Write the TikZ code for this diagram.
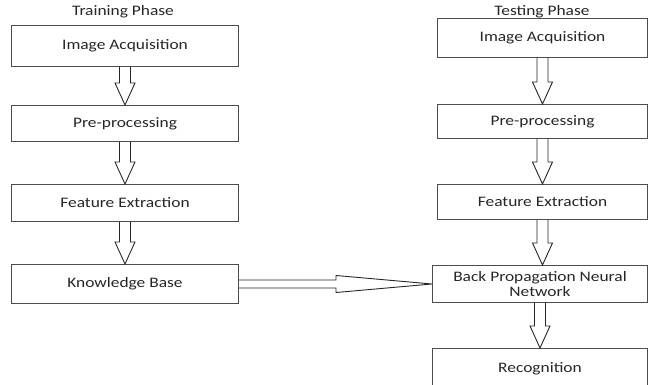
\documentclass[tikz,border=0pt]{standalone}
\usepackage{fontspec}
\setmainfont{Carlito}[FakeStretch=1.2]
\usetikzlibrary{calc}
\newcommand{\blockdown}[2]{%
  \draw[barrow] ($(#1.south)+(-5.5,0)$) -- ($(#1.south |- #2.north)+(-5.5,-22)$)
    -- ($(#1.south |- #2.north)+(-10,-22)$) -- (#1.south |- #2.north)
    -- ($(#1.south |- #2.north)+(10,-22)$) -- ($(#1.south |- #2.north)+(5.5,-22)$)
    -- ($(#1.south)+(5.5,0)$);}
\begin{document}
\begin{tikzpicture}[x=1pt,y=-1pt,
  box/.style={draw=black!70, line width=1pt, text=black!85,
    font=\fontsize{14.5}{15.5}\selectfont, inner sep=0pt, anchor=north west, align=center},
  title/.style={text=black!85, font=\fontsize{14.5}{15.5}\selectfont, inner sep=0pt},
  barrow/.style={draw=black!85, line width=0.9pt}]
\useasboundingbox (0,0) rectangle (648,385);
% titles
\node[title] (ttrain) at (123,12) {Training Phase};
\node[title] (ttest) at (542,12) {Testing Phase};
% training column
\node[box, minimum width=227, minimum height=41] (b1) at (11,25) {Image Acquisition};
\node[box, minimum width=227, minimum height=36] (b2) at (11,105) {Pre-processing};
\node[box, minimum width=227, minimum height=37] (b3) at (11,184) {Feature Extraction};
\node[box, minimum width=227, minimum height=39] (b4) at (11,264) {Knowledge Base};
% testing column
\node[box, minimum width=210, minimum height=39] (r1) at (437,18) {Image Acquisition};
\node[box, minimum width=210, minimum height=34] (r2) at (437,104) {Pre-processing};
\node[box, minimum width=210, minimum height=35] (r3) at (437,184) {Feature Extraction};
\node[box, minimum width=215, minimum height=37] (r4) at (432,265) {Back Propagation Neural\\Network};
\node[box, minimum width=215, minimum height=40] (r5) at (432,348) {Recognition};
% vertical block arrows
\blockdown{b1}{b2}
\blockdown{b2}{b3}
\blockdown{b3}{b4}
\blockdown{r1}{r2}
\blockdown{r2}{r3}
\blockdown{r3}{r4}
\blockdown{r4}{r5}
% horizontal block arrow
\draw[barrow] ($(b4.east)+(0,-4)$) -- ($(r4.west)+(-96,-4)$) -- ($(r4.west)+(-96,-8.5)$)
  -- (r4.west) -- ($(r4.west)+(-96,8.5)$) -- ($(r4.west)+(-96,4)$) -- ($(b4.east)+(0,4)$);
\end{tikzpicture}
\end{document}
